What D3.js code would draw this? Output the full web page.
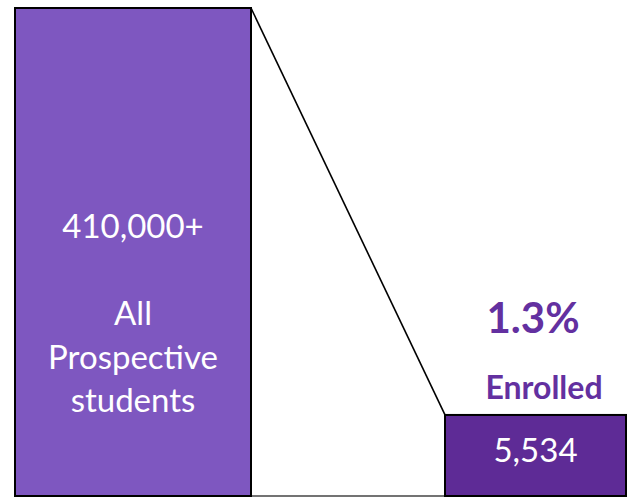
<!DOCTYPE html>
<html>
<head>
<meta charset="utf-8">
<script src="https://cdn.jsdelivr.net/npm/d3@7"></script>
<style>
  html, body { margin: 0; padding: 0; background: #fff; }
  svg { display: block; }
</style>
</head>
<body>
<svg id="chart" width="635" height="499"></svg>
<script>
// Funnel stages, from everyone who showed interest down to enrolment
const stages = ["All Prospective students", "Enrolled"];
const counts = [410000, 5534];
const countLabels = ["410,000+", "5,534"];
const stageLines = [["All", "Prospective", "students"], []];
const conversionLabel = "1.3%";
const enrolledTitle = "Enrolled";

const svg = d3.select("#chart");
const plotTop = 8, plotBottom = 496;

// compressed height scale so the small stage remains legible
const y = d3.scalePow().exponent(0.417).domain([0, counts[0]]).range([0, plotBottom - plotTop]);

// horizontal slots for the two stages
const slots = [{x0: 15, x1: 251}, {x0: 445, x1: 626}];
const fills = ["#7e57c0", "#5e2b96"];
const accent = "#6330a0";
const font = "Lato, 'Open Sans', sans-serif";

const bars = stages.map((s, i) => ({
  stage: s, value: counts[i], label: countLabels[i],
  x0: slots[i].x0, x1: slots[i].x1,
  y0: plotBottom - y(counts[i]), y1: plotBottom, fill: fills[i]
}));

// connector from the top of the first stage to the top of the second
svg.append("line")
  .attr("x1", bars[0].x1).attr("y1", bars[0].y0)
  .attr("x2", bars[1].x0).attr("y2", bars[1].y0)
  .attr("stroke", "#000").attr("stroke-width", 1.6);

// baseline between the two stages
svg.append("line")
  .attr("x1", bars[0].x1).attr("y1", plotBottom)
  .attr("x2", bars[1].x0).attr("y2", plotBottom)
  .attr("stroke", "#444").attr("stroke-width", 1.5);

svg.selectAll("rect.stage")
  .data(bars)
  .join("rect")
  .attr("class", "stage")
  .attr("x", d => d.x0).attr("y", d => d.y0)
  .attr("width", d => d.x1 - d.x0).attr("height", d => d.y1 - d.y0)
  .attr("fill", d => d.fill)
  .attr("stroke", "#000").attr("stroke-width", 2);

// first stage: count and description
const cx0 = (bars[0].x0 + bars[0].x1) / 2;
svg.append("text")
  .attr("x", cx0).attr("y", 238)
  .attr("text-anchor", "middle")
  .attr("font-family", font).attr("font-size", 33)
  .attr("fill", "#fff")
  .text(bars[0].label);

svg.append("g").selectAll("text")
  .data(stageLines[0])
  .join("text")
  .attr("x", cx0).attr("y", (d, i) => 325 + i * 43.5)
  .attr("text-anchor", "middle")
  .attr("font-family", font).attr("font-size", 33)
  .attr("fill", "#fff")
  .text(d => d);

// second stage: count inside, rate and title above
const cx1 = (bars[1].x0 + bars[1].x1) / 2;
svg.append("text")
  .attr("x", cx1).attr("y", 462)
  .attr("text-anchor", "middle")
  .attr("font-family", font).attr("font-size", 33)
  .attr("fill", "#fff")
  .text(bars[1].label);

svg.append("text")
  .attr("x", 533).attr("y", 333)
  .attr("text-anchor", "middle")
  .attr("font-family", font).attr("font-size", 42).attr("font-weight", "bold")
  .attr("fill", accent)
  .text(conversionLabel);

svg.append("text")
  .attr("x", 544).attr("y", 399)
  .attr("text-anchor", "middle")
  .attr("font-family", font).attr("font-size", 32).attr("font-weight", "bold")
  .attr("fill", accent)
  .text(enrolledTitle);
</script>
</body>
</html>
